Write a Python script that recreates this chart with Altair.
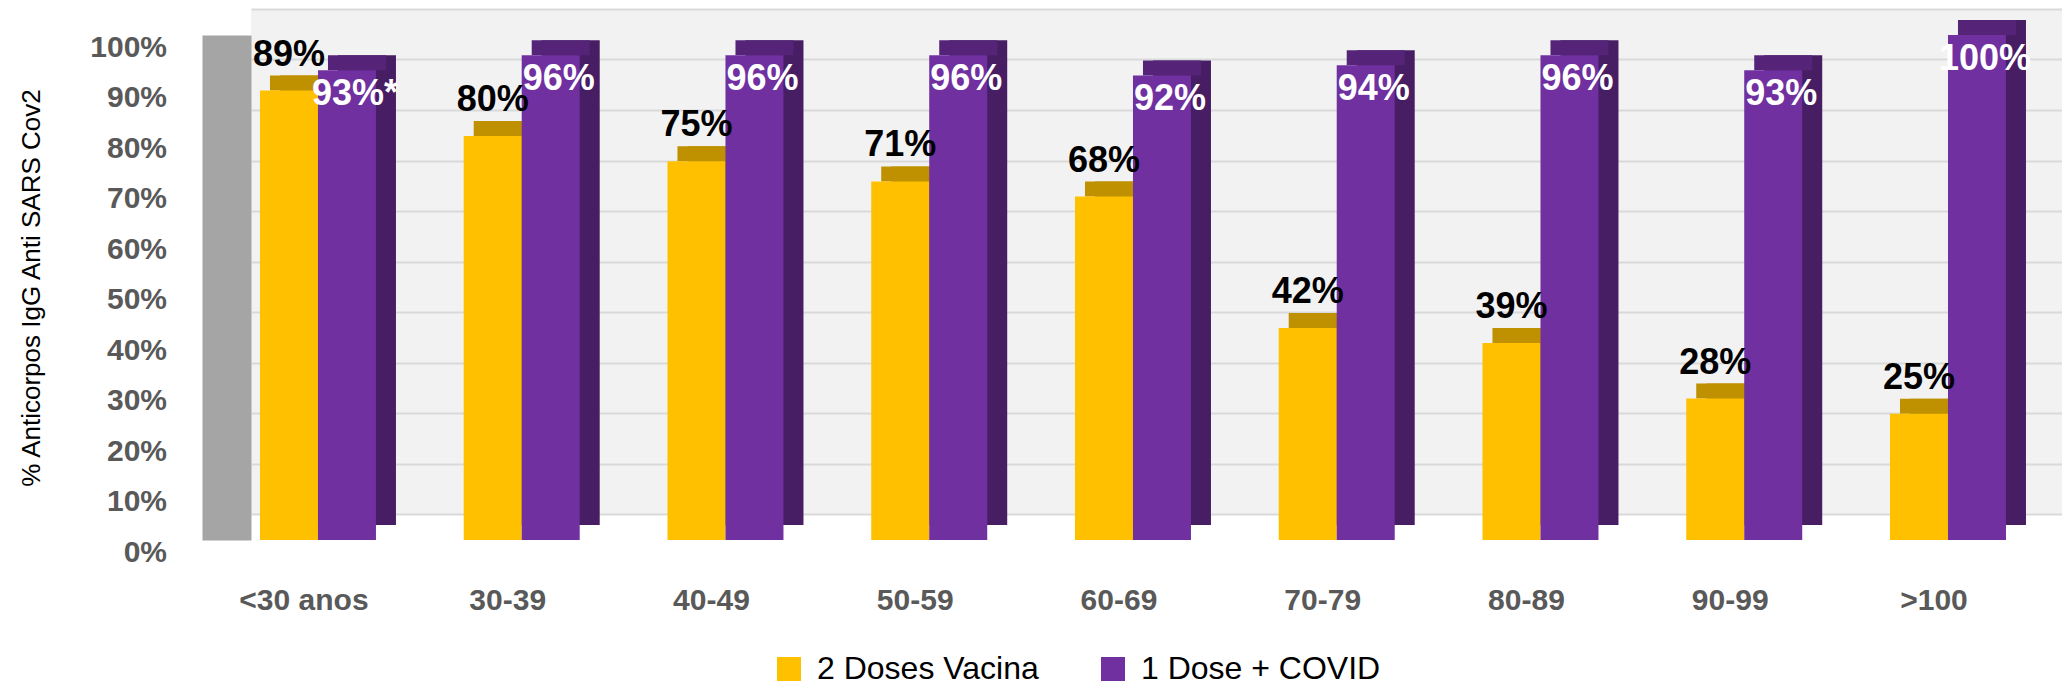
import altair as alt
import pandas as pd

categories = ["<30 anos", "30-39", "40-49", "50-59", "60-69", "70-79", "80-89", "90-99", ">100"]
series_names = ["2 Doses Vacina", "1 Dose + COVID"]
vacina = [89, 80, 75, 71, 68, 42, 39, 28, 25]
covid = [93, 96, 96, 96, 92, 94, 96, 93, 100]
covid_labels = ["93%*", "96%", "96%", "96%", "92%", "94%", "96%", "93%", "100%"]
y_ticks = [0, 10, 20, 30, 40, 50, 60, 70, 80, 90, 100]

rows = []
for i, c in enumerate(categories):
    rows.append({"cat": c, "serie": series_names[0], "v": vacina[i], "lbl": f"{vacina[i]}%"})
    rows.append({"cat": c, "serie": series_names[1], "v": covid[i], "lbl": covid_labels[i]})
df = pd.DataFrame(rows)

YEL, YEL_TOP = "#FFC000", "#BF9000"
PUR, PUR_TOP, PUR_SIDE = "#7030A0", "#552479", "#471E63"
FONT = "Liberation Sans"

W, H = 1811, 505
DEPTH = 26  # back wall sits 26px above the bars' front plane
xscale = alt.Scale(domain=categories, paddingInner=0.4307, paddingOuter=0.1595, align=0.138)
x_enc = alt.X("cat:N", scale=xscale, sort=categories,
              axis=alt.Axis(title=None, domain=False, ticks=False, labelAngle=0,
                            labelFont=FONT, labelFontSize=30, labelFontWeight="bold",
                            labelColor="#595959", labelOffset=-14, labelPadding=45 + DEPTH))
yscale = alt.Scale(domain=[0, 100], nice=False, range=[H + DEPTH, DEPTH])


def xoff(r0, r1):
    return alt.XOffset("serie:N", sort=series_names,
                       scale=alt.Scale(type="band", domain=series_names, range=[r0, r1],
                                       paddingInner=0, paddingOuter=0))


base = alt.Chart(df)

side = base.mark_bar(yOffset=-15, y2Offset=-15, opacity=1).encode(
    x=x_enc, xOffset=xoff(20, 136),
    y=alt.Y("v:Q", scale=yscale,
            axis=alt.Axis(title="% Anticorpos IgG Anti SARS Cov2", values=y_ticks, format="d",
                          labelExpr="datum.value + '%'", grid=True, gridColor="#D9D9D9", gridWidth=2,
                          tickOffset=-DEPTH, ticks=False,
                          domain=True, domainColor="#A5A5A5", domainWidth=49, offset=24.5,
                          labelFont=FONT, labelFontSize=30, labelFontWeight="bold",
                          labelColor="#595959", labelPadding=60, labelOffset=DEPTH + 12,
                          titleFont=FONT, titleFontSize=26, titleFontWeight="normal",
                          titleColor="#000000", titlePadding=45)),
    y2=alt.datum(0),
    color=alt.condition(alt.datum.serie == series_names[0], alt.value(YEL_TOP), alt.value(PUR_SIDE)),
)

top = base.mark_tick(size=58, thickness=15, yOffset=-7.5, opacity=1).encode(
    x=x_enc, xOffset=xoff(10, 126),
    y=alt.Y("v:Q", scale=yscale),
    color=alt.condition(alt.datum.serie == series_names[0], alt.value(YEL_TOP), alt.value(PUR_TOP)),
)

front = base.mark_bar(opacity=1).encode(
    x=x_enc, xOffset=xoff(0, 116),
    y=alt.Y("v:Q", scale=yscale), y2=alt.datum(0),
    color=alt.Color("serie:N", sort=series_names,
                    scale=alt.Scale(domain=series_names, range=[YEL, PUR]),
                    legend=alt.Legend(title=None, orient="none", legendX=522, legendY=644,
                                      direction="horizontal", symbolType="square", symbolSize=576,
                                      symbolStrokeWidth=0, symbolOpacity=1, labelFont=FONT,
                                      labelFontSize=32, labelColor="#000000", labelOffset=12,
                                      columnPadding=58, labelLimit=400)),
)

lab_y = base.transform_filter(alt.datum.serie == series_names[0]).mark_text(
    font=FONT, fontSize=36, fontWeight="bold", color="#000000", baseline="middle", dy=-36
).encode(x=x_enc, xOffset=xoff(0, 116), y=alt.Y("v:Q", scale=yscale), text="lbl:N")

lab_p = base.transform_filter(alt.datum.serie == series_names[1]).mark_text(
    font=FONT, fontSize=36, fontWeight="bold", color="#FFFFFF", baseline="middle", dy=24, dx=8
).encode(x=x_enc, xOffset=xoff(0, 116), y=alt.Y("v:Q", scale=yscale), text="lbl:N")

chart = alt.layer(side, top, front, lab_y, lab_p).resolve_scale(
    xOffset="independent"
).properties(
    width=W, height=H,
    autosize=alt.AutoSizeParams(type="none"),
    padding={"left": 243, "top": 1, "right": 0, "bottom": 171},
).configure_view(stroke=None, fill="#F2F2F2")

chart.save("out.html", embed_options={"renderer": "svg", "actions": False})
